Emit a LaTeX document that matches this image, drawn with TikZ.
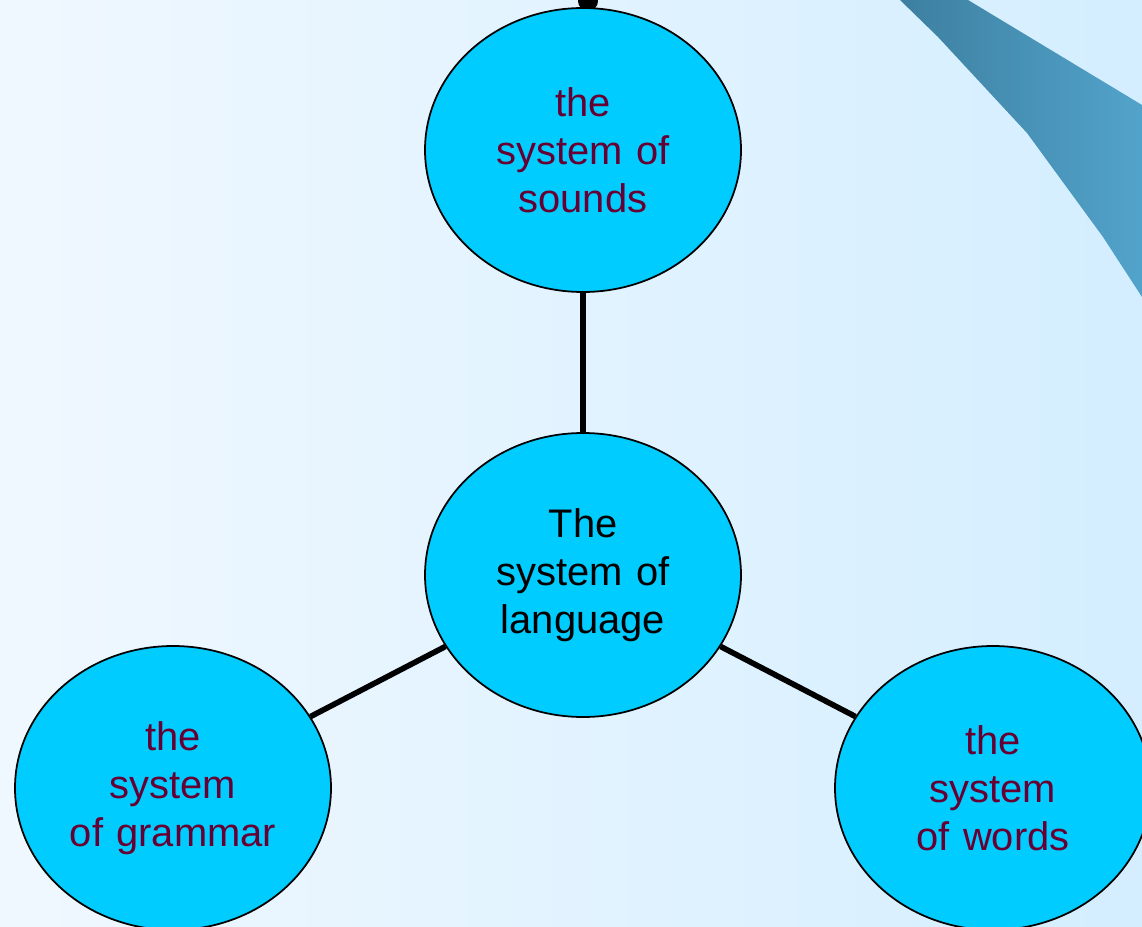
\documentclass[tikz,border=0pt]{standalone}
\usepackage{fontspec}
\setmainfont{Liberation Sans}
\usetikzlibrary{shapes.geometric}
\definecolor{bubble}{HTML}{00CCFF}
\definecolor{wine}{HTML}{660033}
\tikzstyle{sys} = [ellipse, draw, line width=1pt, fill=bubble, minimum width=6.32cm, minimum height=5.68cm, inner sep=0pt, text width=4.2cm, align=center, text=wine, font=\fontsize{22.7}{27.3}\selectfont]
\tikzstyle{link} = [draw, line width=3.2pt]

\begin{document}
\begin{tikzpicture}
      \clip (0,0) rectangle (22.84,-18.54);
      % background and swoosh
      \shade [left color={rgb,255:red,240;green,248;blue,255}, right color={rgb,255:red,212;green,238;blue,255}] (0,0) rectangle (22.84,-18.54);
      \shade [left color={rgb,255:red,61;green,127;blue,160}, right color={rgb,255:red,82;green,163;blue,203}]
        (18.0,0) -- (18.76,-0.74) -- (20.54,-2.66) -- (22.06,-4.74) -- (22.84,-5.94) -- (22.84,-2.1) -- (19.36,0) -- cycle;
      \fill (11.76,-0.02) ellipse (0.2cm and 0.2cm);

      % place nodes
      \node [sys, text=black] (lang) at (11.66,-11.5) {The\\system of\\language};
      \node [sys] (sounds) at (11.66,-3.0) {the\\system of\\sounds};
      \node [sys] (grammar) at (3.46,-15.76) {the\\system\\of grammar};
      \node [sys] (words) at (19.86,-15.76) {the\\system\\of words};

      % draw edges
      \path [link] (lang) -- (sounds);
      \path [link] (lang) -- (grammar);
      \path [link] (lang) -- (words);
\end{tikzpicture}
\end{document}
